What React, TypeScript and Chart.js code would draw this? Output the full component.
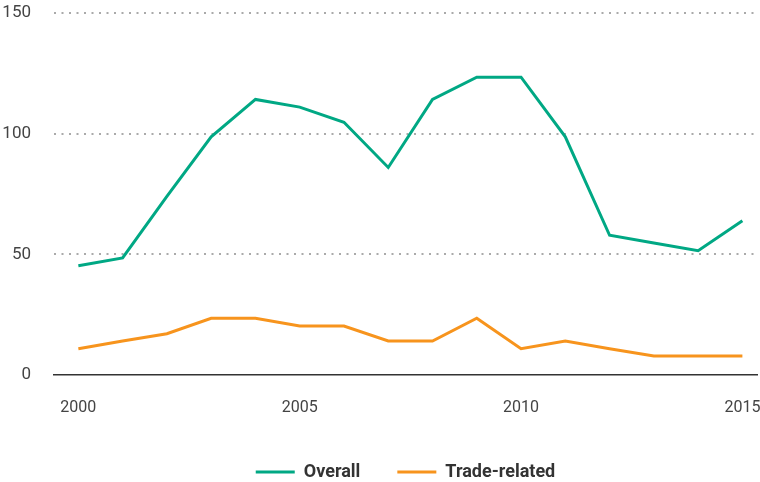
import React, { useEffect, useRef } from "react";
import { Chart, registerables } from "chart.js";

Chart.register(...registerables);

const years = [2000, 2001, 2002, 2003, 2004, 2005, 2006, 2007, 2008, 2009, 2010, 2011, 2012, 2013, 2014, 2015];
const overall = [45.3, 48.5, 74, 98.7, 114.2, 111, 104.7, 86, 114.2, 123.4, 123.4, 98.7, 57.9, 54.7, 51.5, 63.9];
const tradeRelated = [10.9, 14.1, 17.1, 23.5, 23.5, 20.3, 20.3, 14.1, 14.1, 23.5, 10.9, 14.1, 10.9, 7.9, 7.9, 7.9];
const xTicks = [2000, 2005, 2010, 2015];
const yTicks = [0, 50, 100, 150];

const FONT = "Roboto, 'Liberation Sans', sans-serif";

export default function App() {
  const ref = useRef<HTMLCanvasElement | null>(null);
  useEffect(() => {
    document.body.style.margin = "0";
    const ctx = ref.current!;
    const chart = new Chart(ctx, {
      type: "line",
      data: {
        datasets: [
          {
            label: "Overall",
            data: years.map((y, i) => ({ x: y, y: overall[i] })),
            borderColor: "#00a884",
            backgroundColor: "#00a884",
            borderWidth: 3,
            pointRadius: 0,
            tension: 0,
          },
          {
            label: "Trade-related",
            data: years.map((y, i) => ({ x: y, y: tradeRelated[i] })),
            borderColor: "#f7941d",
            backgroundColor: "#f7941d",
            borderWidth: 3,
            pointRadius: 0,
            tension: 0,
          },
        ],
      },
      options: {
        animation: false,
        responsive: false,
        maintainAspectRatio: false,
        layout: { padding: { top: 13, right: 3, left: 0, bottom: 0 } },
        plugins: {
          tooltip: { enabled: false },
          legend: {
            position: "bottom",
            fullSize: false,
            maxHeight: 56,
            labels: {
              usePointStyle: true,
              pointStyle: "line",
              pointStyleWidth: 39,
              padding: 37,
              color: "#333",
              font: { family: FONT, size: 18, weight: "bold" },
            },
          },
        },
        scales: {
          x: {
            type: "linear",
            min: 1999.45,
            max: 2015.33,
            afterBuildTicks: (s: any) => {
              s.ticks = xTicks.map((v) => ({ value: v }));
            },
            afterFit: (s: any) => {
              s.height = 51;
              s.paddingLeft = 0;
              s.paddingRight = 0;
            },
            ticks: {
              padding: 23,
              color: "#444",
              font: { family: FONT, size: 16 },
              callback: (v: any) => String(v),
              maxRotation: 0,
            },
            grid: { display: false, drawTicks: false },
            border: { display: true, color: "#333", width: 1.5 },
          },
          y: {
            min: 0,
            max: 150,
            afterBuildTicks: (s: any) => {
              s.ticks = yTicks.map((v) => ({ value: v }));
            },
            afterFit: (s: any) => {
              s.width = 54;
              s.paddingTop = 0;
              s.paddingBottom = 0;
            },
            ticks: {
              padding: 23,
              color: "#444",
              font: { family: FONT, size: 17 },
            },
            grid: {
              drawTicks: false,
              color: (c: any) => (c.tick && c.tick.value === 0 ? "rgba(0,0,0,0)" : "#aaa"),
              lineWidth: 2,
            },
            border: { display: false, dash: [2, 5.5] },
          },
        },
      },
    });
    return () => chart.destroy();
  }, []);
  return (
    <div style={{ width: 760, height: 482 }}>
      <canvas ref={ref} width={760} height={482} style={{ display: "block" }} />
    </div>
  );
}
